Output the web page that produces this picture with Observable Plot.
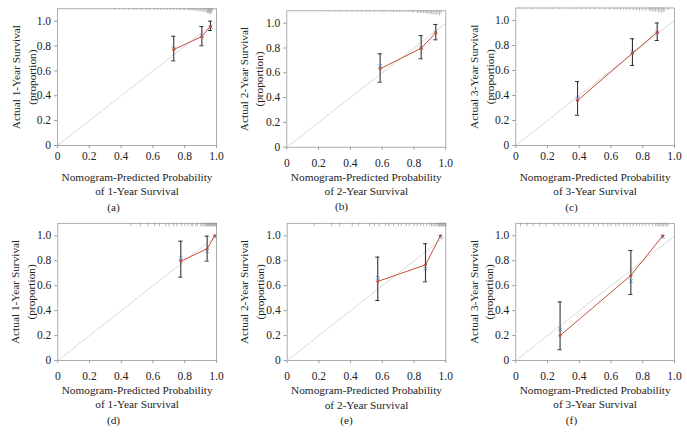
<!DOCTYPE html>
<html>
<head>
<meta charset="utf-8">
<script src="https://cdn.jsdelivr.net/npm/d3@7"></script>
<script src="https://cdn.jsdelivr.net/npm/@observablehq/plot@0.6"></script>
<style>
  html, body { margin: 0; padding: 0; background: #fff; }
  #root { position: relative; width: 687px; height: 443px; overflow: hidden; background: #fff; }
  #root > div { position: absolute; }
</style>
</head>
<body>
<div id="root"></div>
<script>
// ---------- data ----------
const tickValues = [0, 0.2, 0.4, 0.6, 0.8, 1.0];
const tickLabels = ["0", "0.2", "0.4", "0.6", "0.8", "1.0"];
const captions = ["(a)", "(b)", "(c)", "(d)", "(e)", "(f)"];
const years = ["1", "2", "3", "1", "2", "3"];
const diagonal = [0, 1];

// predicted, observed, lower, upper, bias-corrected
const predA = [0.731, 0.908, 0.962];
const obsA  = [0.772, 0.877, 0.957];
const loA   = [0.681, 0.802, 0.925];
const hiA   = [0.879, 0.957, 1.0];
const bcA   = [0.78, 0.88, 0.955];

const predB = [0.587, 0.845, 0.937];
const obsB  = [0.632, 0.798, 0.922];
const loB   = [0.524, 0.713, 0.866];
const hiB   = [0.753, 0.900, 0.990];
const bcB   = [0.655, 0.80, 0.925];

const predC = [0.389, 0.735, 0.891];
const obsC  = [0.360, 0.738, 0.907];
const loC   = [0.242, 0.640, 0.840];
const hiC   = [0.512, 0.854, 0.980];
const bcC   = [0.378, 0.745, 0.905];

const predD = [0.775, 0.941, 0.989];
const obsD  = [0.797, 0.896, 1.0];
const loD   = [0.668, 0.797, null];
const hiD   = [0.957, 0.997, null];
const bcD   = [0.82, 0.877, 0.995];

const predE = [0.571, 0.872, 0.966];
const obsE  = [0.634, 0.767, 1.0];
const loE   = [0.481, 0.631, null];
const hiE   = [0.829, 0.936, null];
const bcE   = [0.663, 0.735, 0.99];

const predF = [0.279, 0.725, 0.926];
const obsF  = [0.200, 0.682, 1.0];
const loF   = [0.086, 0.529, null];
const hiF   = [0.470, 0.882, null];
const bcF   = [0.250, 0.636, 0.99];

// rug of predicted values: [x, spike length]
const rugA = [[0.36,0.01],[0.39,0.01],[0.42,0.01],[0.45,0.012],[0.48,0.01],[0.5,0.01],[0.53,0.012],[0.56,0.01],[0.58,0.012],[0.61,0.01],[0.63,0.012],[0.65,0.012],[0.67,0.01],[0.69,0.012],[0.71,0.012],[0.73,0.01],[0.75,0.014],[0.77,0.015],[0.79,0.012],[0.8,0.015],[0.82,0.016],[0.83,0.012],[0.84,0.018],[0.85,0.015],[0.86,0.02],[0.87,0.018],[0.88,0.022],[0.89,0.025],[0.9,0.02],[0.91,0.026],[0.92,0.03],[0.93,0.026],[0.94,0.036],[0.945,0.04],[0.95,0.032],[0.955,0.046],[0.96,0.036],[0.965,0.05],[0.97,0.032],[0.975,0.02]];
const rugB = [[0.26,0.01],[0.3,0.01],[0.34,0.012],[0.38,0.01],[0.41,0.01],[0.44,0.012],[0.47,0.01],[0.5,0.012],[0.52,0.01],[0.55,0.012],[0.58,0.01],[0.6,0.014],[0.62,0.012],[0.65,0.01],[0.67,0.014],[0.69,0.012],[0.71,0.014],[0.73,0.012],[0.75,0.016],[0.77,0.014],[0.79,0.016],[0.8,0.018],[0.82,0.02],[0.83,0.018],[0.84,0.022],[0.85,0.02],[0.86,0.024],[0.87,0.022],[0.88,0.026],[0.89,0.024],[0.9,0.03],[0.91,0.026],[0.92,0.032],[0.93,0.028],[0.94,0.036],[0.95,0.03],[0.96,0.04],[0.97,0.024]];
const rugC = [[0.02,0.01],[0.06,0.01],[0.1,0.012],[0.14,0.01],[0.19,0.012],[0.23,0.01],[0.27,0.012],[0.31,0.01],[0.34,0.012],[0.38,0.014],[0.41,0.012],[0.44,0.014],[0.47,0.012],[0.5,0.016],[0.53,0.014],[0.56,0.016],[0.59,0.014],[0.62,0.018],[0.64,0.016],[0.66,0.02],[0.68,0.018],[0.7,0.022],[0.72,0.02],[0.74,0.024],[0.76,0.022],[0.78,0.026],[0.8,0.024],[0.82,0.028],[0.84,0.026],[0.85,0.03],[0.86,0.032],[0.87,0.028],[0.88,0.034],[0.89,0.03],[0.9,0.04],[0.91,0.034],[0.92,0.045],[0.93,0.036],[0.94,0.03],[0.96,0.02]];
const rugD = [0.46,0.52,0.57,0.61,0.64,0.68,0.7,0.73,0.75,0.78,0.8,0.82,0.84,0.85,0.87,0.88,0.9,0.91,0.92,0.93,0.935,0.94,0.945,0.95,0.955,0.96,0.965,0.97,0.975,0.98,0.985,0.99,0.995,1.0];
const rugE = [0.17,0.28,0.33,0.41,0.45,0.52,0.55,0.58,0.62,0.64,0.67,0.7,0.72,0.75,0.77,0.8,0.82,0.84,0.86,0.88,0.9,0.91,0.92,0.93,0.94,0.95,0.955,0.96,0.965,0.97,0.975,0.98,0.985,0.99,0.995,1.0];
const rugF = [0.03,0.07,0.11,0.15,0.19,0.24,0.27,0.3,0.33,0.35,0.37,0.4,0.43,0.46,0.49,0.52,0.55,0.58,0.6,0.63,0.65,0.68,0.7,0.72,0.74,0.76,0.78,0.8,0.82,0.84,0.86,0.88,0.89,0.9,0.91,0.92,0.93,0.94,0.95,0.96];

// ---------- layout (pixels) ----------
const layout = [
  {left:0,   top:0,   x0:57,   x1:216,   y0:145,   y1:20.7, tick:10.7, xl:182.8, cap:207, capX:113, yl:22.6},
  {left:228, top:0,   x0:58.3, x1:217.3, y0:146.7, y1:22.7, tick:15.6, xl:182.8, cap:206, capX:113, yl:21.9},
  {left:458, top:0,   x0:57.3, x1:216,   y0:145,   y1:20,   tick:10.7, xl:182.8, cap:207, capX:113, yl:22.6},
  {left:0,   top:220, x0:57.3, x1:216,   y0:140,   y1:15.3, tick:15,   xl:176,   cap:200, capX:113, yl:21.5},
  {left:228, top:220, x0:58.7, x1:217.3, y0:140,   y1:15.3, tick:15,   xl:176.4, cap:200, capX:118, yl:22.3},
  {left:458, top:220, x0:57.3, x1:216,   y0:140,   y1:15.3, tick:15,   xl:176,   cap:200, capX:113, yl:21.9}
];

const series = [
  [predA, obsA, loA, hiA, bcA, rugA, true],
  [predB, obsB, loB, hiB, bcB, rugB, true],
  [predC, obsC, loC, hiC, bcC, rugC, true],
  [predD, obsD, loD, hiD, bcD, rugD, false],
  [predE, obsE, loE, hiE, bcE, rugE, false],
  [predF, obsF, loF, hiF, bcF, rugF, false]
];

const W = 229, H = 223;
const FONT = "'Liberation Serif', 'DejaVu Serif', serif";
const RED = "#c0503a", BAR = "#333", BLUE = "#5577bb";

const root = document.getElementById("root");

series.forEach((s, i) => {
  const [pred, obs, lo, hi, bc, rug, spiky] = s;
  const L = layout[i];
  const pts = pred.map((p, k) => ({p, o: obs[k], lo: lo[k], hi: hi[k], bc: bc[k]}));
  const rugData = spiky ? rug.map(r => ({x: r[0], len: r[1]})) : rug.map(x => ({x, len: 0.028}));
  const plotH = L.y0 - L.y1;             // pixels for 1.0
  const marginTop = L.y1 - plotH * 0.1;  // domain top = 1.1
  const marginBottom = H - L.y0;
  const fmt = d => tickLabels[tickValues.indexOf(d)];

  const chart = Plot.plot({
    width: W, height: H,
    marginLeft: L.x0, marginRight: W - L.x1,
    marginTop, marginBottom,
    x: {domain: [0, 1]},
    y: {domain: [0, 1.1]},
    style: {fontFamily: FONT, fontSize: "11.5px", background: "#fff", color: "#222"},
    marks: [
      Plot.frame({stroke: "#9a9a9a", strokeWidth: 0.8}),
      Plot.axisX({ticks: tickValues, tickFormat: fmt, tickSize: 3, tickPadding: L.tick - 7, stroke: "#9a9a9a", fill: "#222", label: null, fontSize: 11.5}),
      Plot.axisY({ticks: tickValues, tickFormat: fmt, tickSize: 3, tickPadding: 3.5, stroke: "#9a9a9a", fill: "#222", label: null, fontSize: 11.5}),
      Plot.line(diagonal, {x: d => d, y: d => d, stroke: "#c8c8c8", strokeWidth: 0.7}),
      Plot.ruleX(rugData, {x: "x", y1: 1.1, y2: d => 1.1 - d.len, stroke: "#8a8a8a", strokeWidth: 0.6}),
      Plot.line(pts, {x: "p", y: "o", stroke: RED, strokeWidth: 1}),
      Plot.ruleX(pts, {x: "p", y1: "lo", y2: "hi", stroke: BAR, strokeWidth: 1.1}),
      Plot.ruleY(pts, {y: "hi", x1: d => d.p - 0.013, x2: d => d.p + 0.013, stroke: BAR, strokeWidth: 1}),
      Plot.ruleY(pts, {y: "lo", x1: d => d.p - 0.013, x2: d => d.p + 0.013, stroke: BAR, strokeWidth: 1}),
      Plot.dot(pts, {x: "p", y: "bc", symbol: "times", r: 1.8, stroke: BLUE, strokeWidth: 0.8}),
      Plot.dot(pts, {x: "p", y: "o", r: 1.5, fill: RED}),
      Plot.text([`Nomogram-Predicted Probability\nof ${years[i]}-Year Survival`], {
        frameAnchor: "bottom", dy: L.xl - L.y0, lineAnchor: "middle", textAnchor: "middle",
        lineHeight: 1.27, fontSize: 11.3, fill: "#222"
      }),
      Plot.text([captions[i]], {
        frameAnchor: "bottom-left", dx: L.capX - L.x0, dy: L.cap - L.y0, lineAnchor: "middle",
        textAnchor: "middle", fontSize: 11.3, fill: "#222"
      }),
      Plot.text([`Actual ${years[i]}-Year Survival\n(proportion)`], {
        frameAnchor: "left", dx: L.yl - L.x0, rotate: -90, lineAnchor: "middle",
        textAnchor: "middle", lineHeight: 1.4, fontSize: 11.3, fill: "#222"
      })
    ]
  });
  const wrap = document.createElement("div");
  wrap.style.left = L.left + "px";
  wrap.style.top = L.top + "px";
  wrap.appendChild(chart);
  root.appendChild(wrap);
});
</script>
</body>
</html>
